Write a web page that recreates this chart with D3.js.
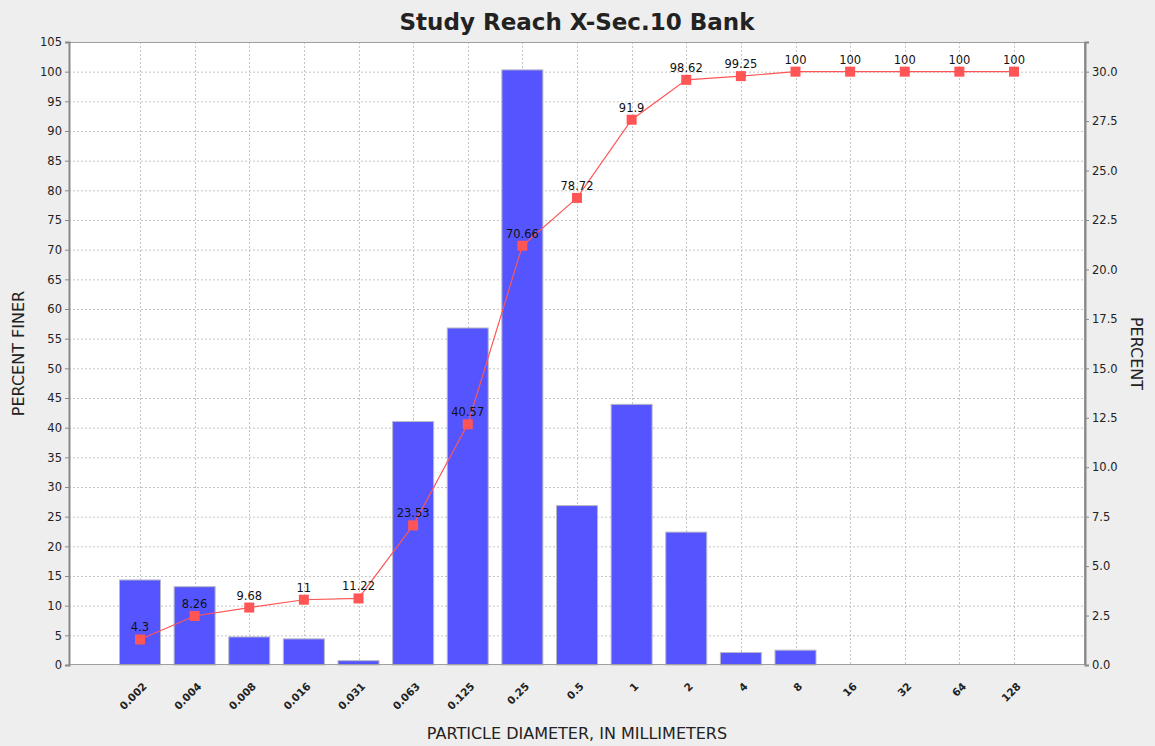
<!DOCTYPE html>
<html><head><meta charset="utf-8">
<script src="https://cdn.jsdelivr.net/npm/d3@7"></script>
<style>body{margin:0;background:#eeeeee;} svg{display:block;}</style>
</head><body>
<script>
const categories = ["0.002","0.004","0.008","0.016","0.031","0.063","0.125","0.25","0.5","1","2","4","8","16","32","64","128"];
const percentClass = [4.3,3.96,1.42,1.32,0.22,12.31,17.04,30.09,8.06,13.18,6.72,0.63,0.75,0,0,0,0];
const percentFiner = [4.3,8.26,9.68,11,11.22,23.53,40.57,70.66,78.72,91.9,98.62,99.25,100,100,100,100,100];
const leftTicks = d3.range(0,106,5);
const rightTicks = d3.range(0,31,2.5);

const W=1155,H=746;
const m={l:69,r:1085,t:42,b:665};
const svg=d3.select("body").append("svg").attr("width",W).attr("height",H);
svg.append("rect").attr("width",W).attr("height",H).attr("fill","#eeeeee");
svg.append("rect").attr("x",m.l).attr("y",m.t).attr("width",m.r-m.l).attr("height",m.b-m.t).attr("fill","#ffffff");

const x=d3.scalePoint().domain(categories).range([m.l+71,m.r-71]);
const yL=d3.scaleLinear().domain([0,105]).range([m.b,m.t]);
const yR=d3.scaleLinear().domain([0,31.5]).range([m.b,m.t]);
const font="DejaVu Sans, Verdana, sans-serif";

// grid
const g=svg.append("g");
g.selectAll("line.h").data(leftTicks.filter(d=>d>0&&d<105)).join("line")
 .attr("x1",m.l).attr("x2",m.r).attr("y1",d=>yL(d)+0.5).attr("y2",d=>yL(d)+0.5)
 .attr("stroke","#c4c4c4").attr("stroke-dasharray","2,2");
g.selectAll("line.v").data(categories).join("line")
 .attr("y1",m.t).attr("y2",m.b).attr("x1",d=>Math.round(x(d))+0.5).attr("x2",d=>Math.round(x(d))+0.5)
 .attr("stroke","#c4c4c4").attr("stroke-dasharray","2,2");

// bars
const bw=41;
svg.append("g").selectAll("rect").data(categories.map((c,i)=>({c,v:percentClass[i]})).filter(d=>d.v>0)).join("rect")
 .attr("x",d=>x(d.c)-bw/2).attr("width",bw)
 .attr("y",d=>yR(d.v)).attr("height",d=>m.b-yR(d.v))
 .attr("fill","#5555ff").attr("stroke","#b8b8c8").attr("stroke-width",1);

// frame
svg.append("rect").attr("x",m.l+0.5).attr("y",m.t+0.5).attr("width",m.r-m.l-1).attr("height",m.b-m.t-1)
 .attr("fill","none").attr("stroke","#a0a0a0");

// axes
const axL=svg.append("g").attr("transform",`translate(${m.l},0)`)
 .call(d3.axisLeft(yL).tickValues(leftTicks).tickSize(4).tickPadding(3));
const axR=svg.append("g").attr("transform",`translate(${m.r},0)`)
 .call(d3.axisRight(yR).tickValues(rightTicks).tickSize(4).tickPadding(3).tickFormat(d3.format(".1f")));
const axB=svg.append("g").attr("transform",`translate(0,${m.b})`)
 .call(d3.axisBottom(x).tickSize(0).tickPadding(0));
[axL,axR,axB].forEach(a=>{
  a.selectAll(".domain").attr("stroke","#888888").attr("stroke-width",2);
  a.selectAll(".tick line").attr("stroke","#888888");
  a.selectAll("text").attr("font-family",font).attr("font-size","11.5px").attr("fill","#222");
});
axB.select(".domain").remove();
axB.selectAll(".tick text").attr("text-anchor","end").attr("dy",0).attr("font-weight","bold").attr("font-size","10.5px")
 .attr("transform","translate(7,22) rotate(-45)");

// line
const pts=categories.map((c,i)=>({c,v:percentFiner[i]}));
svg.append("path").datum(pts).attr("fill","none").attr("stroke","#ff5555").attr("stroke-width",1.2)
 .attr("d",d3.line().x(d=>x(d.c)).y(d=>yL(d.v)));
svg.append("g").selectAll("rect").data(pts).join("rect")
 .attr("x",d=>x(d.c)-5).attr("y",d=>yL(d.v)-5).attr("width",10).attr("height",10).attr("fill","#ff5555");
svg.append("g").selectAll("text").data(pts).join("text")
 .attr("x",d=>x(d.c)).attr("y",d=>yL(d.v)-8).attr("text-anchor","middle")
 .attr("font-family",font).attr("font-size","11.5px").attr("fill","#111")
 .text(d=>d3.format("")(d.v));

// titles
svg.append("text").attr("x",(m.l+m.r)/2).attr("y",30).attr("text-anchor","middle")
 .attr("font-family",font).attr("font-weight","bold").attr("font-size","23px").attr("fill","#222")
 .text("Study Reach X-Sec.10 Bank");
svg.append("text").attr("transform",`translate(24,${(m.t+m.b)/2}) rotate(-90)`).attr("text-anchor","middle")
 .attr("font-family",font).attr("font-size","16px").attr("fill","#222").text("PERCENT FINER");
svg.append("text").attr("transform",`translate(1131,${(m.t+m.b)/2}) rotate(90)`).attr("text-anchor","middle")
 .attr("font-family",font).attr("font-size","16px").attr("fill","#222").text("PERCENT");
svg.append("text").attr("x",(m.l+m.r)/2).attr("y",739).attr("text-anchor","middle")
 .attr("font-family",font).attr("font-size","16px").attr("fill","#222").text("PARTICLE DIAMETER, IN MILLIMETERS");
</script>
</body></html>
